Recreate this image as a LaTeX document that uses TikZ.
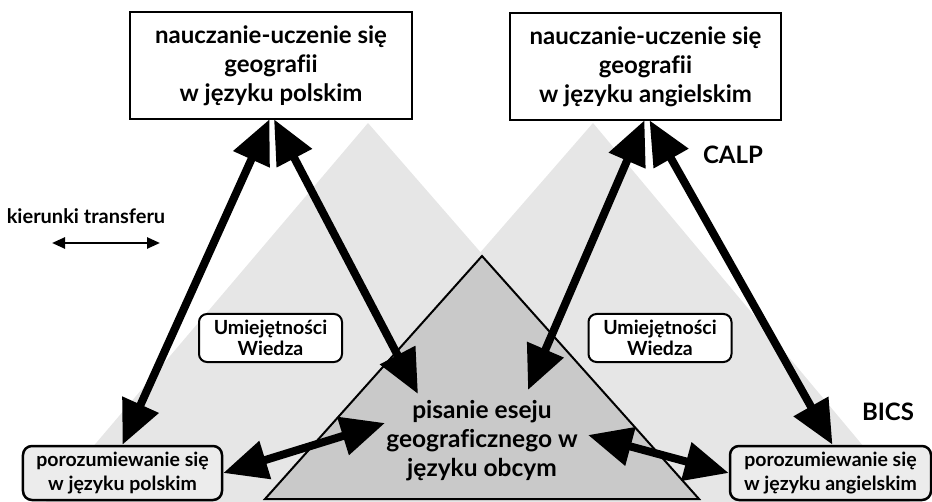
\documentclass[tikz,border=0pt]{standalone}
\usepackage{fontspec}
\setmainfont{Lato}[Ligatures=NoCommon]
\usetikzlibrary{arrows.meta}
\definecolor{lightg}{HTML}{E6E6E6}
\definecolor{darkg}{HTML}{C9C9C9}
\definecolor{boxg}{HTML}{ECECEC}
\tikzset{
  topbox/.style={draw, line width=2.5bp, fill=white, minimum height=107bp, align=center, font=\bfseries\fontsize{24bp}{29bp}\selectfont, inner sep=0pt},
  botbox/.style={draw, line width=2.5bp, fill=boxg, rounded corners=9bp, minimum width=199bp, minimum height=54bp, align=center, font=\bfseries\fontsize{19.5bp}{24bp}\selectfont, inner sep=0pt},
  skillbox/.style={draw, line width=2bp, fill=white, rounded corners=8bp, minimum width=143bp, minimum height=48bp, align=center, font=\bfseries\fontsize{19.5bp}{21bp}\selectfont, inner sep=0pt},
  label/.style={font=\bfseries\fontsize{24bp}{28bp}\selectfont, inner sep=0pt},
  bigarrow/.style={line width=8bp, {Triangle[length=44bp,width=38bp]}-{Triangle[length=44bp,width=38bp]}},
  smallarrow/.style={line width=2.5bp, {Triangle[length=13bp,width=11bp]}-{Triangle[length=13bp,width=11bp]}}
}
\begin{document}
\begin{tikzpicture}[x=1bp,y=-1bp]
\useasboundingbox (0,0) rectangle (932,502);
% light triangles
\fill[lightg] (368,123) -- (46,502) -- (698,502) -- cycle;
\fill[lightg] (593,123) -- (263,502) -- (910,502) -- cycle;
% dark triangle
\filldraw[fill=darkg, draw=black, line width=2bp] (482,256) -- (265,499) -- (699,499) -- cycle;
\node[align=center, font=\bfseries\fontsize{24.5bp}{29bp}\selectfont] (essay) at (482,441) {pisanie eseju\\geograficznego w\\języku obcym};

% boxes
\node[topbox, minimum width=282bp] (topL) at (271,65.5) {nauczanie-uczenie się\\geografii\\w języku polskim};
\node[topbox, minimum width=271bp] (topR) at (645.5,66.5) {nauczanie-uczenie się\\geografii\\w języku angielskim};
\node[skillbox] (skL) at (270.5,338) {Umiejętności\\Wiedza};
\node[skillbox] (skR) at (660,338) {Umiejętności\\Wiedza};
\node[botbox] (botL) at (122.5,473) {porozumiewanie się\\w języku polskim};
\node[botbox, minimum width=201bp] (botR) at (830.5,473) {porozumiewanie się\\w języku angielskim};

% labels
\node[label] (calp) at (733,155) {CALP};
\node[label] (bics) at (888,412) {BICS};
\node[label, font=\bfseries\fontsize{20bp}{24bp}\selectfont] (kier) at (86,216) {kierunki transferu};
\coordinate (legA) at (52,243);
\coordinate (legB) at (160,243);
\draw[smallarrow] (legA) -- (legB);

% free ends
\coordinate (eL) at (418,394);
\coordinate (eR) at (528,390);
\coordinate (hL) at (385,423);
\coordinate (hR) at (588,435);

% big arrows
\draw[bigarrow] ([xshift=-1.5bp,yshift=1bp]topL.south) -- (botL.north);
\draw[bigarrow] ([xshift=3bp,yshift=1bp]topL.south) -- (eL);
\draw[bigarrow] ([xshift=-1bp,yshift=1bp]topR.south) -- (eR);
\draw[bigarrow] ([xshift=4bp,yshift=1bp]topR.south) -- ([xshift=2bp]botR.north);
\draw[bigarrow] (botL.east) -- (hL);
\draw[bigarrow] (hR) -- (botR.west);
\end{tikzpicture}
\end{document}
